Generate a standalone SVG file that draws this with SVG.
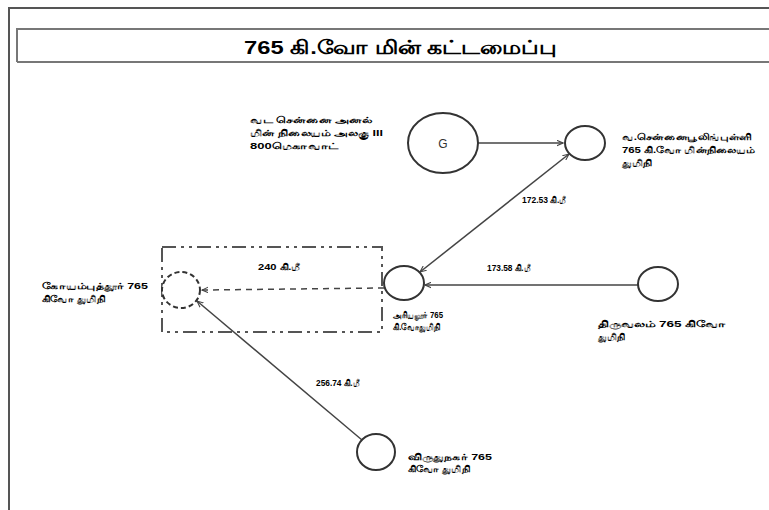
<svg xmlns="http://www.w3.org/2000/svg" width="769" height="510" viewBox="0 0 769 510">
<style>
.frame{fill:none;stroke:#555;stroke-width:2}
.node{fill:#fff;stroke:#333;stroke-width:2}
.dnode{fill:#fff;stroke:#333;stroke-width:2;stroke-dasharray:5,3}
.conn{stroke:#444;stroke-width:1.5;fill:none}
.lbl{font-family:"Liberation Sans","Noto Sans",sans-serif;font-size:9px;font-weight:bold;fill:#000}
.title{font-family:"Liberation Sans","Noto Sans",sans-serif;font-size:19px;font-weight:bold;fill:#000}
</style>
<defs>
<marker id="ah" viewBox="0 0 10 10" refX="9" refY="5" markerWidth="7" markerHeight="7" orient="auto-start-reverse" markerUnits="userSpaceOnUse">
<path d="M0,1 L9,5 L0,9" fill="none" stroke="#444" stroke-width="1.5"/>
</marker>
</defs>
<rect width="769" height="510" fill="#fff"/>
<path class="frame" d="M9,510 V8 H769"/>
<path d="M17,62 V29 H769 M17,62 H769" fill="none" stroke="#777" stroke-width="2"/>
<text class="title" x="244" y="54" textLength="312" lengthAdjust="spacingAndGlyphs">765 கி.வோ மின் கட்டமைப்பு</text>

<rect id="zone" x="162" y="247" width="220" height="85" fill="none" stroke="#555" stroke-width="2" stroke-dasharray="14,5,3,5,3,5"/>

<g id="connectors">
<line class="conn" x1="478" y1="143" x2="563" y2="143" marker-end="url(#ah)"/>
<line class="conn" x1="569" y1="154" x2="420" y2="272" marker-start="url(#ah)" marker-end="url(#ah)"/>
<line class="conn" x1="638" y1="285" x2="425" y2="285" marker-end="url(#ah)"/>
<line class="conn" x1="384" y1="288" x2="202" y2="290" stroke-dasharray="6,5" marker-end="url(#ah)"/>
<line class="conn" x1="362" y1="440" x2="197" y2="301" marker-end="url(#ah)"/>
<text class="lbl" x="522" y="203" textLength="44" lengthAdjust="spacingAndGlyphs">172.53 கி.மீ</text>
<text class="lbl" x="258" y="270" textLength="42" lengthAdjust="spacingAndGlyphs">240 கி.மீ</text>
<text class="lbl" x="487" y="271" textLength="43" lengthAdjust="spacingAndGlyphs">173.58 கி.மீ</text>
<text class="lbl" x="316" y="386" textLength="43" lengthAdjust="spacingAndGlyphs">256.74 கி.மீ</text>
</g>

<g id="gen">
<ellipse class="node" cx="443" cy="143" rx="35" ry="30"/>
<text x="443" y="148" text-anchor="middle" font-family="Liberation Sans,sans-serif" font-size="12" fill="#333">G</text>
<text class="lbl" x="250" y="123" textLength="122" lengthAdjust="spacingAndGlyphs">வட சென்னை அனல்</text>
<text class="lbl" x="250" y="136" textLength="133" lengthAdjust="spacingAndGlyphs">மின் நிலையம் அலகு III</text>
<text class="lbl" x="250" y="149" textLength="88" lengthAdjust="spacingAndGlyphs">800மெகாவாட்</text>
</g>

<g id="northchennai">
<ellipse class="node" cx="585" cy="143" rx="20" ry="17"/>
<text class="lbl" x="622" y="140" textLength="130" lengthAdjust="spacingAndGlyphs">வ.சென்னைபூலிங்புள்ளி</text>
<text class="lbl" x="622" y="153" textLength="133" lengthAdjust="spacingAndGlyphs">765 கி.வோ மின்நிலையம்</text>
<text class="lbl" x="622" y="166" textLength="30" lengthAdjust="spacingAndGlyphs">துமிநி</text>
</g>

<g id="ariyalur">
<ellipse class="node" cx="404" cy="283" rx="20" ry="17"/>
<text class="lbl" x="393" y="318" textLength="50" lengthAdjust="spacingAndGlyphs">அரியலூர் 765</text>
<text class="lbl" x="393" y="330" textLength="47" lengthAdjust="spacingAndGlyphs">கி.வோதுமிநி</text>
</g>

<g id="thiruvalam">
<ellipse class="node" cx="658" cy="284" rx="20" ry="17"/>
<text class="lbl" x="598" y="327" textLength="128" lengthAdjust="spacingAndGlyphs">திருவலம் 765 கிவோ</text>
<text class="lbl" x="598" y="340" textLength="27" lengthAdjust="spacingAndGlyphs">துமிநி</text>
</g>

<g id="coimbatore">
<ellipse class="dnode" cx="181" cy="290" rx="19" ry="18"/>
<text class="lbl" x="42" y="289" textLength="106" lengthAdjust="spacingAndGlyphs">கோயம்புத்தூர் 765</text>
<text class="lbl" x="42" y="302" textLength="63" lengthAdjust="spacingAndGlyphs">கிவோ துமிநி</text>
</g>

<g id="virudhunagar">
<ellipse class="node" cx="376" cy="452" rx="19" ry="18"/>
<text class="lbl" x="408" y="460" textLength="84" lengthAdjust="spacingAndGlyphs">விருதுநகர் 765</text>
<text class="lbl" x="408" y="472" textLength="62" lengthAdjust="spacingAndGlyphs">கிவோ துமிநி</text>
</g>
</svg>
